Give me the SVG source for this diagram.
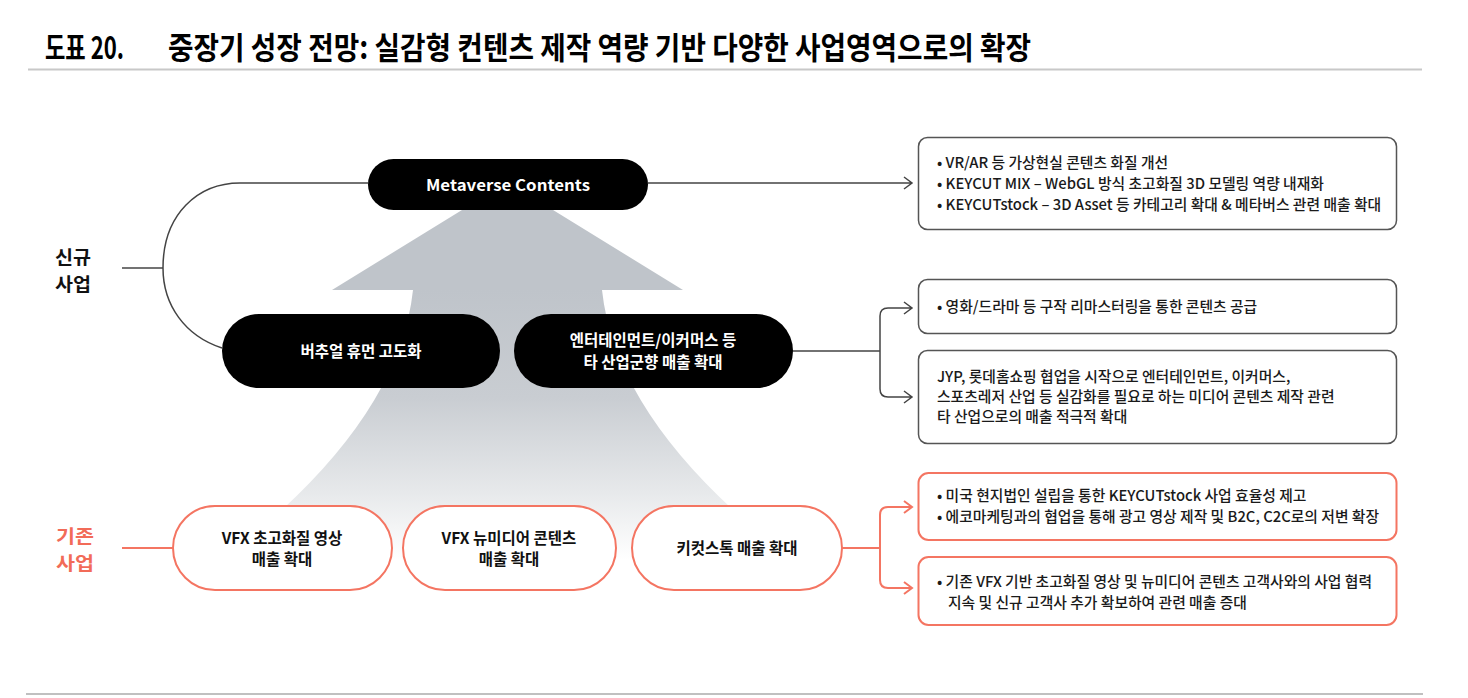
<svg xmlns="http://www.w3.org/2000/svg" width="1468" height="698" viewBox="0 0 1468 698">
<defs>
<linearGradient id="fade" gradientUnits="userSpaceOnUse" x1="0" y1="290" x2="0" y2="560">
<stop offset="0" stop-color="#bfc4ca"/>
<stop offset="0.4" stop-color="#c9cdd2"/>
<stop offset="0.75" stop-color="#e7e9eb"/>
<stop offset="1" stop-color="#ffffff"/>
</linearGradient>
<style>
.k{font-family:"Noto Sans CJK KR","Noto Sans",sans-serif;}
.title{font-size:31px;font-weight:bold;fill:#000;}
.side{font-size:18.5px;font-weight:bold;}
.wn{font-size:15.5px;font-weight:bold;fill:#fff;text-anchor:middle;}
.bn{font-size:15.5px;font-weight:bold;fill:#111;text-anchor:middle;}
.bx{font-size:14.8px;fill:#1a1a1a;font-weight:500;}
.blk{fill:#000;}
.org{fill:#fff;stroke:#f47562;stroke-width:2;}
.gbox{fill:#fff;stroke:#555;stroke-width:1.5;}
.obox{fill:#fff;stroke:#f47562;stroke-width:2;}
.cg{fill:none;stroke:#444;stroke-width:1.5;}
.co{fill:none;stroke:#f47562;stroke-width:2;}
</style>
</defs>
<rect width="1468" height="698" fill="#fff"/>
<g id="title">
<text class="k title" x="45" y="59" textLength="79" lengthAdjust="spacingAndGlyphs">도표 20.</text>
<text class="k title" x="168" y="59" textLength="863" lengthAdjust="spacingAndGlyphs">중장기 성장 전망: 실감형 컨텐츠 제작 역량 기반 다양한 사업영역으로의 확장</text>
<line x1="28" y1="69.5" x2="1422" y2="69.5" stroke="#c8c8c8" stroke-width="2"/>
</g>
<g id="bigArrow">
<path d="M507.5,182 L683,290 L602,290 Q616.5,425 793,560 L222,560 Q398.5,425 413,290 L332,290 Z" fill="url(#fade)"/>
</g>
<g id="connectors">
<line x1="122" y1="268" x2="163" y2="268" class="cg"/>
<path class="cg" d="M368,183 H240 C198,183 163,214 163,268 C163,305 185,336 222,348"/>
<path class="cg" d="M648,183 H912 M904,177 L912,183 L904,189"/>
<path class="cg" d="M793,351 H880 M912,308 H888 Q880,308 880,316 V389 Q880,397 888,397 H912 M904,302 L912,308 L904,314 M904,391 L912,397 L904,403"/>
<line x1="122" y1="548" x2="173" y2="548" class="co"/>
<path class="co" d="M842,548 H880 M912,507 H888 Q880,507 880,515 V580 Q880,588 888,588 H912 M904,501 L912,507 L904,513 M904,582 L912,588 L904,594"/>
</g>
<g id="label-new">
<text class="k side" fill="#111"><tspan x="55" y="264" textLength="36" lengthAdjust="spacingAndGlyphs">신규</tspan><tspan x="55" y="291" textLength="36" lengthAdjust="spacingAndGlyphs">사업</tspan></text>
</g>
<g id="label-existing">
<text class="k side" fill="#f26b58"><tspan x="56" y="543" textLength="38" lengthAdjust="spacingAndGlyphs">기존</tspan><tspan x="56" y="570" textLength="38" lengthAdjust="spacingAndGlyphs">사업</tspan></text>
</g>
<g id="node-metaverse">
<rect class="blk" x="368" y="159" width="280" height="51" rx="25.5"/>
<text class="k wn" x="508" y="191" textLength="164" lengthAdjust="spacingAndGlyphs">Metaverse Contents</text>
</g>
<g id="node-virtual">
<rect class="blk" x="222" y="314" width="278" height="74" rx="37"/>
<text class="k wn" x="361" y="357">버추얼 휴먼 고도화</text>
</g>
<g id="node-ent">
<rect class="blk" x="514" y="314" width="279" height="74" rx="37"/>
<text class="k wn" x="653" y="346">엔터테인먼트/이커머스 등</text>
<text class="k wn" x="653" y="368">타 산업군향 매출 확대</text>
</g>
<g id="node-vfx1">
<rect class="org" x="173" y="506" width="219" height="84" rx="42"/>
<text class="k bn" x="282" y="544">VFX 초고화질 영상</text>
<text class="k bn" x="282" y="565">매출 확대</text>
</g>
<g id="node-vfx2">
<rect class="org" x="403" y="506" width="213" height="84" rx="42"/>
<text class="k bn" x="509" y="544">VFX 뉴미디어 콘텐츠</text>
<text class="k bn" x="509" y="565">매출 확대</text>
</g>
<g id="node-keycut">
<rect class="org" x="632" y="506" width="210" height="84" rx="42"/>
<text class="k bn" x="737" y="554">키컷스톡 매출 확대</text>
</g>
<g id="box-meta">
<rect class="gbox" x="918.5" y="137.5" width="478" height="92" rx="9"/>
<text class="k bx" x="937" y="168">• VR/AR 등 가상현실 콘텐츠 화질 개선</text>
<text class="k bx" x="937" y="189">• KEYCUT MIX – WebGL 방식 초고화질 3D 모델링 역량 내재화</text>
<text class="k bx" x="937" y="210">• KEYCUTstock – 3D Asset 등 카테고리 확대 &amp; 메타버스 관련 매출 확대</text>
</g>
<g id="box-remaster">
<rect class="gbox" x="918.5" y="279.5" width="478" height="54" rx="9"/>
<text class="k bx" x="937" y="312">• 영화/드라마 등 구작 리마스터링을 통한 콘텐츠 공급</text>
</g>
<g id="box-jyp">
<rect class="gbox" x="918.5" y="350.5" width="478" height="93" rx="9"/>
<text class="k bx" x="937" y="382">JYP, 롯데홈쇼핑 협업을 시작으로 엔터테인먼트, 이커머스,</text>
<text class="k bx" x="937" y="402">스포츠레저 산업 등 실감화를 필요로 하는 미디어 콘텐츠 제작 관련</text>
<text class="k bx" x="937" y="422">타 산업으로의 매출 적극적 확대</text>
</g>
<g id="box-us">
<rect class="obox" x="918.5" y="473" width="478" height="67" rx="10"/>
<text class="k bx" x="937" y="501">• 미국 현지법인 설립을 통한 KEYCUTstock 사업 효율성 제고</text>
<text class="k bx" x="937" y="522">• 에코마케팅과의 협업을 통해 광고 영상 제작 및 B2C, C2C로의 저변 확장</text>
</g>
<g id="box-vfx">
<rect class="obox" x="918.5" y="557" width="478" height="68" rx="10"/>
<text class="k bx" x="937" y="587">• 기존 VFX 기반 초고화질 영상 및 뉴미디어 콘텐츠 고객사와의 사업 협력</text>
<text class="k bx" x="948" y="608">지속 및 신규 고객사 추가 확보하여 관련 매출 증대</text>
</g>
<line x1="26" y1="694" x2="1423" y2="694" stroke="#c0c0c0" stroke-width="2"/>
</svg>
